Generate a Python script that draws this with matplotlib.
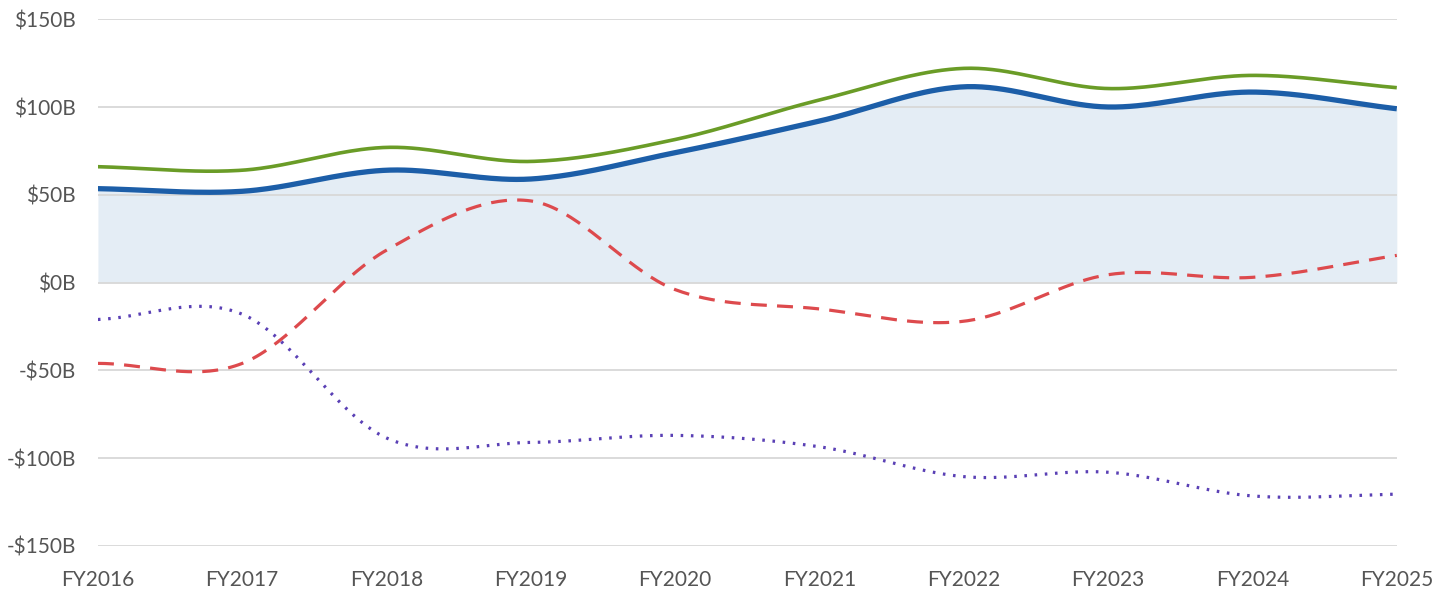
import numpy as np
import matplotlib
matplotlib.use("Agg")
import matplotlib.pyplot as plt
from matplotlib.ticker import FuncFormatter

years = ["FY2016", "FY2017", "FY2018", "FY2019", "FY2020",
         "FY2021", "FY2022", "FY2023", "FY2024", "FY2025"]
operating = [66, 64, 77, 69, 81.5, 104, 122, 110.5, 118, 111]
free_cash = [53.5, 52, 64, 59, 74, 92, 111.5, 100, 108.5, 99]
investing = [-46, -46, 18.5, 46.5, -4, -15, -22, 4.5, 3, 15.5]
financing = [-21, -18, -88.5, -91, -87, -93.5, -110.5, -108, -121.5, -120.5]


def smooth(y, n=40):
    # catmull-rom through the points
    y = np.asarray(y, dtype=float)
    p = np.concatenate([[2 * y[0] - y[1]], y, [2 * y[-1] - y[-2]]])
    xs, ys = [], []
    t = np.linspace(0, 1, n, endpoint=False)
    for i in range(len(y) - 1):
        p0, p1, p2, p3 = p[i], p[i + 1], p[i + 2], p[i + 3]
        seg = 0.5 * (2 * p1 + (-p0 + p2) * t + (2 * p0 - 5 * p1 + 4 * p2 - p3) * t ** 2
                     + (-p0 + 3 * p1 - 3 * p2 + p3) * t ** 3)
        xs.append(i + t)
        ys.append(seg)
    xs.append([len(y) - 1])
    ys.append([y[-1]])
    return np.concatenate(xs), np.concatenate(ys)


plt.rcParams["font.family"] = ["Lato", "DejaVu Sans"]
fig = plt.figure(figsize=(14.4, 6), dpi=100)
ax = fig.add_axes([0.068, 0.09, 0.902, 0.878])

x, yb = smooth(free_cash)
ax.fill_between(x, 0, yb, color="#e4edf5", zorder=1, linewidth=0)

for v in range(-150, 151, 50):
    ax.axhline(v, color="#d8d8d8", lw=1.3, zorder=2)

x, y = smooth(operating)
ax.plot(x, y, color="#6a9c27", lw=2.6, zorder=4, solid_capstyle="butt")
ax.plot(x, yb, color="#1c5ea8", lw=3.8, zorder=5, solid_capstyle="butt")
x, y = smooth(investing)
ax.plot(x, y, color="#dd4a4d", lw=2.3, ls=(0, (5, 3.2)), zorder=3)
x, y = smooth(financing)
ax.plot(x, y, color="#5a40b5", lw=2.3, ls=(0, (0.8, 2.4)), zorder=3)

ax.set_xlim(0, len(years) - 1)
ax.set_ylim(-150, 150)
ax.set_xticks(range(len(years)))
ax.set_xticklabels(years)
ax.set_yticks(range(-150, 151, 50))
ax.yaxis.set_major_formatter(FuncFormatter(lambda v, p: ("-$%dB" % abs(v)) if v < 0 else "$%dB" % v))
ax.tick_params(length=0, labelsize=15, labelcolor="#555555")
ax.tick_params(axis="y", pad=16)
ax.tick_params(axis="x", pad=17)
for s in ax.spines.values():
    s.set_visible(False)

fig.savefig("out.png", dpi=100)
